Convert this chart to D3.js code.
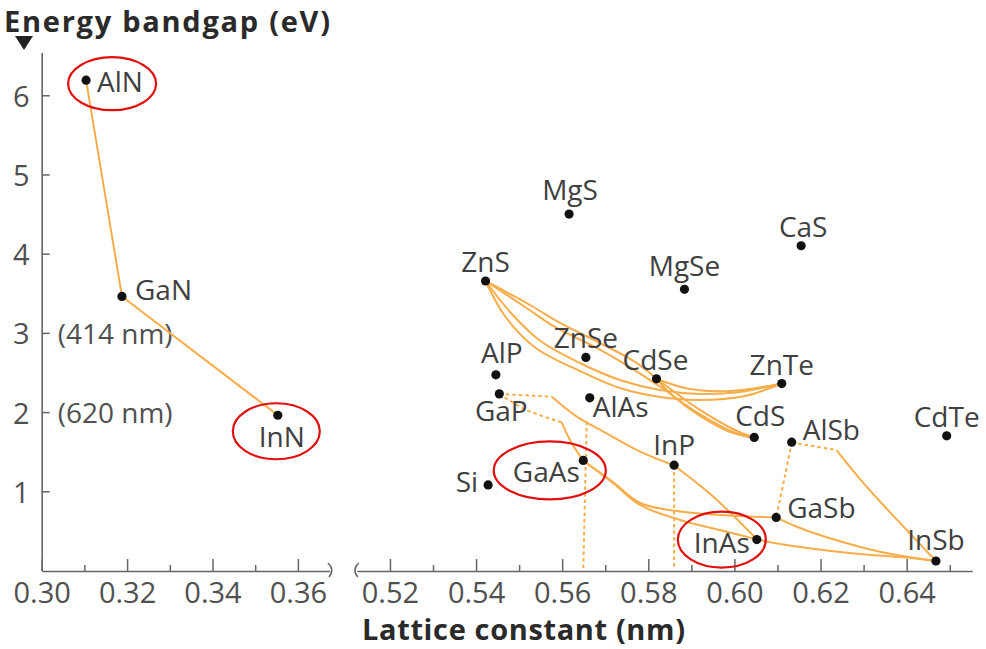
<!DOCTYPE html>
<html><head><meta charset="utf-8">
<script src="https://cdn.jsdelivr.net/npm/d3@7/dist/d3.min.js"></script>
<style>
html,body{margin:0;padding:0;background:#fff;}
svg{display:block;font-family:"Open Sans",sans-serif;}
</style></head>
<body>
<svg id="chart" width="986" height="649"></svg>
<script>
// ---------------- DATA ----------------
const leftNames   = ["AlN","GaN","InN"];
const leftLattice = [0.3104, 0.3188, 0.3553];
const leftGap     = [6.19, 3.46, 1.96];

const rightNames   = ["MgS","CaS","MgSe","ZnS","ZnSe","CdSe","ZnTe","AlP","GaP","AlAs","CdS","AlSb","CdTe","InP","GaAs","Si","GaSb","InAs","InSb"];
const rightLattice = [0.5616,0.6155,0.5884,0.5422,0.5655,0.5819,0.6110,0.5446,0.5454,0.5664,0.6046,0.6133,0.6493,0.5860,0.5649,0.5428,0.6097,0.6052,0.6468];
const rightGap     = [4.50,4.10,3.55,3.655,2.69,2.42,2.36,2.47,2.23,2.18,1.68,1.62,1.70,1.33,1.39,1.08,0.67,0.39,0.12];

const yTicks = [1,2,3,4,5,6];
const yTickNotes = [[3,"(414 nm)"],[2,"(620 nm)"]];
const leftXTicks = [0.30,0.32,0.34,0.36];
const leftXMinor = [0.31,0.33,0.35];
const rightXTicks = [0.52,0.54,0.56,0.58,0.60,0.62,0.64];
const rightXMinor = [0.53,0.55,0.57,0.59,0.61,0.63,0.65];

const highlighted = ["AlN","InN","GaAs","InAs"];

// alloy curves [lattice constant, bandgap]
const nitrideCurve = [[0.3104,6.19],[0.3188,3.46],[0.3553,1.96]];
const znsCdsA = [[0.5422,3.655],[0.5525,3.352],[0.5595,3.125],[0.5688,2.872],[0.5769,2.633],[0.5839,2.342],[0.5920,2.027],[0.6001,1.774],[0.6046,1.677]];
const znsCdsB = [[0.5422,3.655],[0.5514,3.327],[0.5583,3.075],[0.5676,2.822],[0.5757,2.569],[0.5832,2.304],[0.5915,1.989],[0.5997,1.749],[0.6046,1.677]];
const cdseCds = [[0.5819,2.418],[0.5855,2.216],[0.5920,1.951],[0.5990,1.749],[0.6046,1.677]];
const znsZnteA = [[0.5422,3.655],[0.5479,3.264],[0.5548,2.904],[0.5641,2.620],[0.5734,2.406],[0.5827,2.279],[0.5920,2.229],[0.6013,2.254],[0.6110,2.361]];
const znsZnteB = [[0.5422,3.655],[0.5467,3.213],[0.5537,2.816],[0.5641,2.519],[0.5734,2.304],[0.5827,2.191],[0.5920,2.153],[0.6024,2.203],[0.6110,2.361]];
const cdseZnte = [[0.5819,2.418],[0.5897,2.291],[0.5990,2.266],[0.6110,2.361]];
const gapGaasDash = [[0.5454,2.229],[0.5517,2.027],[0.5599,1.871]];
const gapGaasSolid = [[0.5599,1.871],[0.5618,1.648],[0.5649,1.386]];
const gapInpDash = [[0.5454,2.229],[0.5576,2.194]];
const gapInpSolid = [[0.5576,2.194],[0.5634,1.942],[0.5703,1.732],[0.5781,1.500],[0.5860,1.326]];
const gaasMatched = [[0.5657,1.88],[0.5649,0.03]];
const inpMatched = [[0.5860,1.326],[0.5860,0.03]];
const gaasGasb = [[0.5649,1.386],[0.5718,1.117],[0.5781,0.852],[0.5874,0.745],[0.5966,0.701],[0.6036,0.682],[0.6097,0.672]];
const gaasInas = [[0.5649,1.386],[0.5718,1.105],[0.5781,0.827],[0.5874,0.638],[0.5966,0.511],[0.6052,0.394]];
const inasInsb = [[0.6052,0.394],[0.6106,0.335],[0.6261,0.225],[0.6415,0.154],[0.6468,0.120]];
const gasbInsb = [[0.6097,0.672],[0.6145,0.553],[0.6222,0.407],[0.6338,0.237],[0.6468,0.120]];
const inpInas = [[0.5860,1.326],[0.5951,0.932],[0.6052,0.394]];
const alsbGasbDash = [[0.6133,1.616],[0.6117,1.184],[0.6097,0.672]];
const alsbInsbDash = [[0.6133,1.616],[0.6237,1.521]];
const alsbInsbSolid = [[0.6237,1.521],[0.6307,1.058],[0.6400,0.511],[0.6468,0.120]];

const solidCurves = [znsCdsA, znsCdsB, cdseCds, znsZnteA, znsZnteB, cdseZnte, gapGaasSolid, gapInpSolid, gaasGasb, gaasInas, inasInsb, gasbInsb, inpInas, alsbInsbSolid];
const dashedCurves = [gapGaasDash, gapInpDash, gaasMatched, inpMatched, alsbGasbDash, alsbInsbDash];

// ---------------- LAYOUT ----------------
const labelLayout = {
  AlN:[11,12,"start"], GaN:[13,4,"start"], InN:[4,32,"middle"],
  MgS:[1,-14,"middle"], CaS:[2,-9,"middle"], MgSe:[0,-13,"middle"],
  ZnS:[0,-9,"middle"], ZnSe:[0,-9.5,"middle"], CdSe:[-1,-9,"middle"], ZnTe:[0,-8.5,"middle"],
  AlP:[6,-12,"middle"], GaP:[2,27,"middle"], AlAs:[3,19.5,"start"], CdS:[6,-11,"middle"],
  AlSb:[11,-2.5,"start"], CdTe:[0,-9,"middle"], InP:[0,-10.5,"middle"], GaAs:[-3.5,22,"end"],
  Si:[-10,7,"end"], GaSb:[11,1,"start"], InAs:[-7,13,"end"], InSb:[0,-11,"middle"]
};
const ellipseLayout = {
  AlN:[26,3.5,44,26.5], InN:[-1.5,16,43.5,28], GaAs:[-33.5,10,56,29], InAs:[-35,0,44,28]
};

const orange = "#f7ad4a", axisCol = "#666", textCol = "#404040";

const svg = d3.select("#chart");
const y = d3.scaleLinear().domain([0, 6.54]).range([570.5, 52.5]);
const xL = d3.scaleLinear().domain([0.30, 0.3675]).range([41.7, 329.9]);
const xR = d3.scaleLinear().domain([0.5123, 0.6552]).range([356.8, 972.1]);
const axisY = 571;

// axes
function bottomAxis(scale, ticks, minor){
  const g = svg.append("g").attr("transform", `translate(0,${axisY})`);
  g.call(d3.axisBottom(scale).tickValues(ticks).tickSizeInner(-12).tickSizeOuter(0).tickPadding(11).tickFormat(d3.format(".2f")));
  g.select(".domain").attr("stroke", axisCol).attr("stroke-width", 1.6);
  g.selectAll(".tick line").attr("stroke", axisCol).attr("stroke-width", 1.5);
  g.selectAll(".tick text").attr("fill", "#505050").attr("font-size", 29).attr("font-family", '"Open Sans",sans-serif');
  const g2 = svg.append("g").attr("transform", `translate(0,${axisY})`);
  g2.call(d3.axisBottom(scale).tickValues(minor).tickSizeInner(-6).tickSizeOuter(0).tickFormat(""));
  g2.select(".domain").remove();
  g2.selectAll(".tick line").attr("stroke", axisCol).attr("stroke-width", 1.5);
}
bottomAxis(xL, leftXTicks, leftXMinor);
bottomAxis(xR, rightXTicks, rightXMinor);

const gy = svg.append("g").attr("transform", `translate(${xL(0.30)},0)`);
gy.call(d3.axisLeft(y).tickValues(yTicks).tickSizeInner(-8).tickSizeOuter(0).tickPadding(12).tickFormat(d3.format("d")));
gy.select(".domain").attr("stroke", axisCol).attr("stroke-width", 1.6);
gy.selectAll(".tick line").attr("stroke", axisCol).attr("stroke-width", 1.5);
gy.selectAll(".tick text").attr("fill", "#505050").attr("font-size", 29).attr("dy", "0.38em").attr("font-family", '"Open Sans",sans-serif');

// axis break marks
svg.append("path").attr("d", `M${xL.range()[1]-2},${axisY-8} C${xL.range()[1]+3},${axisY-4} ${xL.range()[1]+3},${axisY+2} ${xL.range()[1]-1},${axisY+6}`)
  .attr("fill","none").attr("stroke",axisCol).attr("stroke-width",1.5);
svg.append("path").attr("d", `M${xR.range()[0]+2},${axisY-8} C${xR.range()[0]-3},${axisY-4} ${xR.range()[0]-3},${axisY+2} ${xR.range()[0]+1},${axisY+6}`)
  .attr("fill","none").attr("stroke",axisCol).attr("stroke-width",1.5);

// wavelength notes
svg.selectAll("text.note").data(yTickNotes).enter().append("text")
  .attr("x", xL(0.30) + 16).attr("y", d => y(d[0]) + 11)
  .attr("font-size", 28).attr("fill", "#505050").text(d => d[1]);

// curves
const lineL = d3.line().x(d => xL(d[0])).y(d => y(d[1]));
const lineR = d3.line().x(d => xR(d[0])).y(d => y(d[1])).curve(d3.curveCatmullRom.alpha(0.5));
svg.append("path").attr("d", lineL(nitrideCurve)).attr("fill","none").attr("stroke",orange).attr("stroke-width",2);
svg.selectAll("path.solid").data(solidCurves).enter().append("path").attr("class","solid")
  .attr("d", d => lineR(d)).attr("fill","none").attr("stroke",orange).attr("stroke-width",2);
svg.selectAll("path.dashed").data(dashedCurves).enter().append("path").attr("class","dashed")
  .attr("d", d => lineR(d)).attr("fill","none").attr("stroke",orange).attr("stroke-width",2).attr("stroke-dasharray","3.5,3");

// points
const pts = leftNames.map((n,i) => ({name:n, px:xL(leftLattice[i]), py:y(leftGap[i])}))
  .concat(rightNames.map((n,i) => ({name:n, px:xR(rightLattice[i]), py:y(rightGap[i])})));

svg.selectAll("circle.pt").data(pts).enter().append("circle").attr("class","pt")
  .attr("cx", d => d.px).attr("cy", d => d.py).attr("r", 4.6).attr("fill", "#111");

svg.selectAll("text.lbl").data(pts).enter().append("text").attr("class","lbl")
  .attr("x", d => d.px + labelLayout[d.name][0]).attr("y", d => d.py + labelLayout[d.name][1])
  .attr("text-anchor", d => labelLayout[d.name][2])
  .attr("font-size", 28).attr("fill", textCol).text(d => d.name);

// highlight ellipses
svg.selectAll("ellipse.hl").data(pts.filter(d => highlighted.includes(d.name))).enter().append("ellipse").attr("class","hl")
  .attr("cx", d => d.px + ellipseLayout[d.name][0]).attr("cy", d => d.py + ellipseLayout[d.name][1])
  .attr("rx", d => ellipseLayout[d.name][2]).attr("ry", d => ellipseLayout[d.name][3])
  .attr("fill","none").attr("stroke","#e01010").attr("stroke-width",2.2);

// titles
svg.append("text").attr("x", 4).attr("y", 32).attr("font-size", 29).attr("font-weight", 700)
  .attr("fill", "#2a2a2a").attr("textLength", 326).attr("lengthAdjust","spacing").text("Energy bandgap (eV)");
svg.append("path").attr("d", "M15,36 L33,36 L24,50 Z").attr("fill", "#222");
svg.append("text").attr("x", 362).attr("y", 640).attr("font-size", 29).attr("font-weight", 700)
  .attr("fill", "#2a2a2a").attr("textLength", 323).attr("lengthAdjust","spacing").text("Lattice constant (nm)");
</script>
</body></html>
